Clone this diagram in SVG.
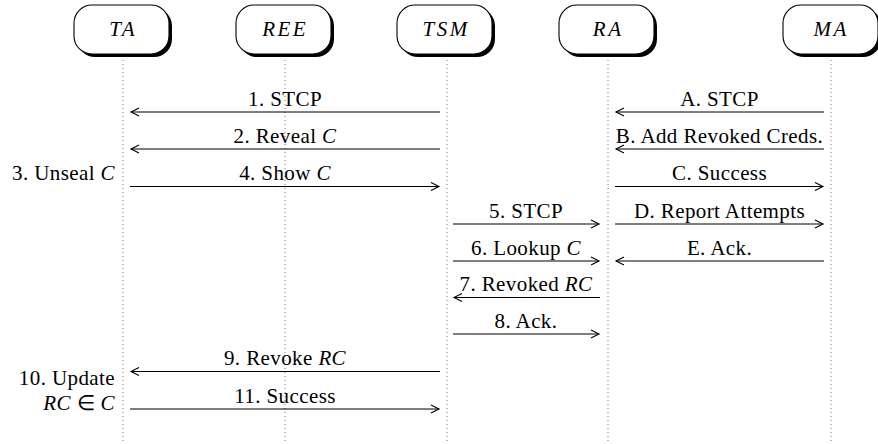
<svg xmlns="http://www.w3.org/2000/svg" width="878" height="444" viewBox="0 0 878 444">
<defs>
<marker id="ah" markerUnits="userSpaceOnUse" markerWidth="12" markerHeight="12" viewBox="-10 -6 12 12" refX="0" refY="0" orient="auto">
<path d="M-8,-4 L0,0 L-8,4" fill="none" stroke="#000" stroke-width="1.1"/>
</marker>
<rect id="shadow" width="95" height="49" rx="18" fill="#000"/>
<rect id="box" width="95" height="49" rx="18" fill="#fff" stroke="#000" stroke-width="1.1"/>
</defs>
<rect width="878" height="444" fill="#fff"/>
<g id="lifelines" stroke="#777" stroke-width="1" stroke-dasharray="1 3">
<line x1="123" y1="60" x2="123" y2="444"/>
<line x1="285" y1="60" x2="285" y2="444"/>
<line x1="447" y1="60" x2="447" y2="444"/>
<line x1="608" y1="60" x2="608" y2="444"/>
<line x1="831" y1="60" x2="831" y2="444"/>
</g>
<g font-family="Liberation Serif" font-size="21" font-style="italic" text-anchor="middle" letter-spacing="2.5">
<g id="TA">
<use href="#shadow" x="77" y="8"/>
<use href="#box" x="74" y="5"/>
<text x="123.2" y="36">TA</text>
</g>
<g id="REE">
<use href="#shadow" x="239" y="8"/>
<use href="#box" x="236" y="5"/>
<text x="285.2" y="36">REE</text>
</g>
<g id="TSM">
<use href="#shadow" x="400" y="8"/>
<use href="#box" x="397" y="5"/>
<text x="446.2" y="36">TSM</text>
</g>
<g id="RA">
<use href="#shadow" x="562" y="8"/>
<use href="#box" x="559" y="5"/>
<text x="608.2" y="36">RA</text>
</g>
<g id="MA">
<use href="#shadow" x="786" y="8"/>
<use href="#box" x="783" y="5"/>
<text x="831.2" y="36">MA</text>
</g>
</g>
<g id="connectors" stroke="#000" stroke-width="1.1" fill="none" marker-end="url(#ah)">
<line x1="440" y1="112" x2="131" y2="112"/>
<line x1="440" y1="149" x2="131" y2="149"/>
<line x1="130" y1="186.5" x2="439" y2="186.5"/>
<line x1="453" y1="224" x2="599" y2="224"/>
<line x1="453" y1="261" x2="599" y2="261"/>
<line x1="600" y1="297.5" x2="454" y2="297.5"/>
<line x1="453" y1="334" x2="599" y2="334"/>
<line x1="440" y1="371.5" x2="131" y2="371.5"/>
<line x1="130" y1="409" x2="439" y2="409"/>
<line x1="824" y1="112" x2="616" y2="112"/>
<line x1="824" y1="149" x2="616" y2="149"/>
<line x1="615" y1="186.5" x2="823" y2="186.5"/>
<line x1="615" y1="224" x2="823" y2="224"/>
<line x1="824" y1="261" x2="616" y2="261"/>
</g>
<g id="labels" font-family="Liberation Serif" font-size="21" letter-spacing="0.4" text-anchor="middle">
<text x="285" y="106">1. STCP</text>
<text x="285" y="143">2. Reveal <tspan font-style="italic">C</tspan></text>
<text x="115" y="180" text-anchor="end">3. Unseal <tspan font-style="italic">C</tspan></text>
<text x="285" y="180">4. Show <tspan font-style="italic">C</tspan></text>
<text x="526" y="218">5. STCP</text>
<text x="526" y="255">6. Lookup <tspan font-style="italic">C</tspan></text>
<text x="526" y="291">7. Revoked <tspan font-style="italic">RC</tspan></text>
<text x="526" y="328">8. Ack.</text>
<text x="285" y="365">9. Revoke <tspan font-style="italic">RC</tspan></text>
<text x="115" y="385" text-anchor="end">10. Update</text>
<text x="115" y="410" text-anchor="end"><tspan font-style="italic">RC</tspan> ∈ <tspan font-style="italic">C</tspan></text>
<text x="285" y="403">11. Success</text>
<text x="719.5" y="106">A. STCP</text>
<text x="719.5" y="143">B. Add Revoked Creds.</text>
<text x="719.5" y="180">C. Success</text>
<text x="719.5" y="218">D. Report Attempts</text>
<text x="719.5" y="255">E. Ack.</text>
</g>
</svg>
